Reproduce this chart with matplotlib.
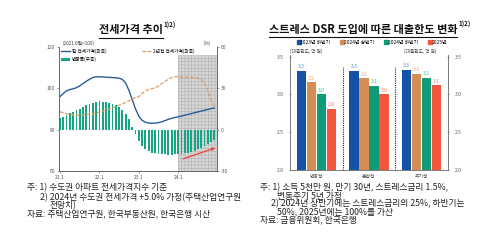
import matplotlib
matplotlib.use("Agg")
import matplotlib.pyplot as plt
import numpy as np
from matplotlib.lines import Line2D

plt.rcParams['font.family'] = ['Noto Sans CJK KR', 'DejaVu Sans']
plt.rcParams['hatch.linewidth'] = 0.3
plt.rcParams['axes.unicode_minus'] = False

# ---------------- data: left chart (monthly, 21.1 ~ 24.12) ----------------
months = list(range(48))
xtick_pos = [0, 12, 24, 36]
xtick_labels = ["21.1", "22.1", "23.1", "24.1"]
current_price = [96.0, 97.5, 98.8, 99.4, 99.8, 100.3, 101.2, 102.3, 103.4, 104.4, 105.2, 105.6,
                 105.6, 105.5, 105.4, 105.3, 105.2, 105.1, 104.9, 104.3, 102.5, 99.0, 94.5, 90.0,
                 86.5, 84.5, 83.6, 83.2, 83.1, 83.2, 83.4, 83.8, 84.4, 85.0, 85.5, 85.9,
                 86.2, 86.6, 87.0, 87.4, 87.8, 88.2, 88.6, 89.0, 89.4, 89.8, 90.2, 90.5]
price_2y_ago = [88.7, 88.2, 87.8, 87.5, 87.2, 87.1, 87.0, 87.1, 87.3, 87.5, 87.8, 88.1,
                88.5, 89.0, 89.5, 90.0, 90.6, 91.2, 91.8, 92.5, 93.2, 94.0, 94.8, 95.5,
                96.0, 97.5, 98.8, 99.4, 99.8, 100.3, 101.2, 102.3, 103.4, 104.4, 105.2, 105.6,
                105.6, 105.5, 105.4, 105.3, 105.2, 105.1, 104.9, 104.3, 102.5, 99.0, 94.5, 91.5]
change_pct = [8.5, 9.5, 10.8, 11.8, 12.8, 14.0, 15.3, 16.6, 17.8, 18.8, 19.6, 20.2,
              20.5, 20.4, 20.0, 19.5, 18.8, 17.8, 16.5, 14.5, 11.5, 7.5, 2.0, -3.0,
              -8.0, -11.5, -14.0, -15.6, -16.6, -17.2, -17.6, -17.9, -18.0, -18.1, -18.1, -18.0,
              -17.9, -17.6, -17.2, -16.7, -16.0, -15.2, -14.3, -13.2, -12.0, -10.6, -9.0, -7.2]

# ---------------- data: right chart ----------------
loan_types = ["변동형", "혼합형", "주기형"]
periods = ["2023년 하반기", "2024년 상반기", "2024년 하반기", "2025년"]
loan_limits = {
    "2023년 하반기": [3.31, 3.31, 3.32],
    "2024년 상반기": [3.16, 3.21, 3.27],
    "2024년 하반기": [3.00, 3.11, 3.22],
    "2025년":       [2.81, 3.00, 3.12],
}
bar_colors = ["#1452a6", "#d38d55", "#0f9b78", "#f4553d"]
label_colors = ["#4f8fd3", "#e3a672", "#35bf9b", "#ff7563"]

W, H = 500, 240
fig = plt.figure(figsize=(5, 2.4), dpi=100)
fig.patch.set_facecolor("white")

def fx(px):
    return px / W

def fy(py):
    return 1 - py / H

TICK_FS = 3.5

# ================= LEFT CHART =================
axL = fig.add_axes([fx(59), fy(171), fx(217) - fx(59), (171 - 47) / H])
axR = axL.twinx()

xmin, xmax = -0.3, 47.8
axR.axvspan(35.8, xmax, ymin=0, ymax=0.935, facecolor="#d6d6d6", edgecolor="#a9a9a9",
            hatch="+++++", linewidth=0, zorder=0)
bars = axR.bar(months, change_pct, width=0.55, color="#17a585", zorder=2, label="변동폭(우축)")
axR.set_ylim(-30, 60)
axR.set_yticks([-30, 0, 30, 60])
axR.tick_params(axis="y", labelsize=TICK_FS, length=1.5, width=0.4, pad=1.5, colors="#555555")
axR.annotate("", xy=(47.3, -13.2), xytext=(37.5, -21.2),
             arrowprops=dict(arrowstyle="-|>", color="#e8453c", lw=0.9,
                             mutation_scale=4, shrinkA=0, shrinkB=0), zorder=5)

axL.set_zorder(axR.get_zorder() + 1)
axL.patch.set_visible(False)
l1, = axL.plot(months, current_price, color="#2c5a9a", lw=1.0, label="현 전세가격(좌축)")
l2, = axL.plot(months, price_2y_ago, color="#e59a62", lw=0.9, ls=(0, (3, 1.3)),
               label="2년전 전세가격(좌축)")
axL.set_ylim(60, 120)
axL.set_yticks([60, 80, 100, 120])
axL.set_xlim(xmin, xmax)
axL.set_xticks(xtick_pos)
axL.set_xticklabels(xtick_labels)
axL.tick_params(axis="both", labelsize=TICK_FS, length=1.5, width=0.4, pad=1.5, colors="#555555")

for a in (axL, axR):
    a.spines["top"].set_visible(False)
    for s in ("left", "right", "bottom"):
        a.spines[s].set_linewidth(0.6)
        a.spines[s].set_color("#666666")

axL.legend(handles=[l1, bars, l2], ncol=2, loc="upper left", bbox_to_anchor=(0.0, 1.005),
           frameon=False, fontsize=3.4, handlelength=1.9, handleheight=0.6,
           handletextpad=0.4, columnspacing=7.6, labelspacing=0.7, borderaxespad=0.2,
           borderpad=0.2)
axL.text(0.02, 1.03, "(2021.6월=100)", transform=axL.transAxes, fontsize=3.4,
         color="#444444", ha="left", va="center")
axL.text(0.94, 1.03, "(%)", transform=axL.transAxes, fontsize=3.4,
         color="#444444", ha="center", va="center")

# ================= RIGHT CHART =================
ax = fig.add_axes([fx(290), fy(170), fx(448) - fx(290), (170 - 55) / H])
x = np.arange(len(loan_types))
bw, step = 0.18, 0.19
handles = []
for i, p in enumerate(periods):
    vals = loan_limits[p]
    pos = x + (i - 1.5) * step
    ax.bar(pos, vals, width=bw, color=bar_colors[i], zorder=2)
    for xp, v in zip(pos, vals):
        ax.annotate(f"{v:.1f}", xy=(xp, v), xytext=(0, 1.2), textcoords="offset points",
                    ha="center", va="bottom", fontsize=3.6, color=label_colors[i])
    handles.append(Line2D([], [], ls="none", marker="s", markersize=2.2,
                          color=bar_colors[i], label=p))
ax.set_ylim(2.0, 3.52)
ax.set_xlim(-0.5, 2.5)
ax.set_yticks([2.0, 2.5, 3.0, 3.5])
ax.set_yticklabels(["2.0", "2.5", "3.0", "3.5"])
ax.set_xticks(x)
ax.set_xticklabels(loan_types)
ax.tick_params(axis="y", labelsize=TICK_FS, length=1.5, width=0.4, pad=4, colors="#555555",
               left=True, right=True, labelleft=True, labelright=True, direction="inout")
ax.tick_params(axis="x", labelsize=TICK_FS, length=0, pad=3, colors="#555555")
ax.spines["top"].set_visible(False)
for s in ("left", "right", "bottom"):
    ax.spines[s].set_linewidth(0.6)
    ax.spines[s].set_color("#666666")
for sep in (0.5, 1.5):
    ax.axvline(sep, ymin=0, ymax=0.9, color="#222222", lw=0.8, ls=(0, (1, 1)), zorder=3)

ax.legend(handles=handles, ncol=4, loc="center", bbox_to_anchor=(0.52, 1.11),
          frameon=False, fontsize=3.5, handlelength=0.5, handletextpad=0.1,
          columnspacing=2.2, borderpad=0)
ax.text(0.0, 1.03, "(대출한도, 억 원)", transform=ax.transAxes, fontsize=3.4,
        color="#444444", ha="left", va="center")
ax.text(0.93, 1.03, "(대출한도, 억 원)", transform=ax.transAxes, fontsize=3.4,
        color="#444444", ha="right", va="center")

# ================= TITLES =================
t1 = fig.text(fx(131), fy(30), "전세가격 추이", fontsize=8, fontweight="bold",
              ha="center", va="center", color="#111111")
t2 = fig.text(fx(363), fy(29), "스트레스 DSR 도입에 따른 대출한도 변화", fontsize=8,
              fontweight="bold", ha="center", va="center", color="#111111")
fig.canvas.draw()
r = fig.canvas.get_renderer()
for t in (t1, t2):
    bb = t.get_window_extent(r)
    fig.text(bb.x1 / W + 0.002, bb.y1 / H + 0.006, "1)2)", fontsize=4.5,
             fontweight="bold", ha="left", va="top", color="#111111")
    yl = bb.y0 / H - 0.008
    fig.add_artist(Line2D([bb.x0 / W, bb.x1 / W], [yl, yl], transform=fig.transFigure,
                          color="#111111", lw=0.8))

# ================= FOOTNOTES =================
FN = 6.3
fnc = "#222222"
fig.text(fx(27), fy(188), "주: 1) 수도권 아파트 전세가격지수 기준", fontsize=FN, color=fnc, va="center")
fig.text(fx(40), fy(197.5), "2) 2024년 수도권 전세가격 +5.0% 가정(주택산업연구원", fontsize=FN, color=fnc, va="center")
fig.text(fx(50), fy(205.5), "전망치)", fontsize=FN, color=fnc, va="center")
fig.text(fx(27), fy(214), "자료: 주택산업연구원, 한국부동산원, 한국은행 시산", fontsize=FN, color=fnc, va="center")

fig.text(fx(260), fy(188), "주: 1) 소득 5천만 원, 만기 30년, 스트레스금리 1.5%,", fontsize=FN, color=fnc, va="center")
fig.text(fx(277), fy(196), "변동주기 5년 가정", fontsize=FN, color=fnc, va="center")
fig.text(fx(271), fy(204), "2) 2024년 상반기에는 스트레스금리의 25%, 하반기는", fontsize=FN, color=fnc, va="center")
fig.text(fx(277), fy(212), "50%, 2025년에는 100%를 가산", fontsize=FN, color=fnc, va="center")
fig.text(fx(260), fy(219.5), "자료: 금융위원회, 한국은행", fontsize=FN, color=fnc, va="center")

fig.savefig("out.png", dpi=100, facecolor="white")
